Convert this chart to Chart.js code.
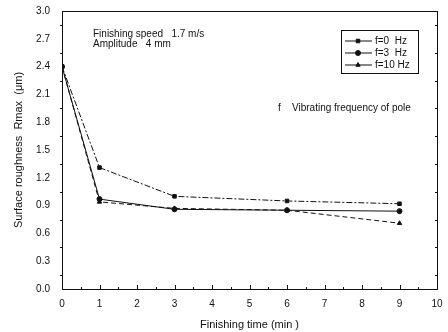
<!DOCTYPE html>
<html>
<head>
<meta charset="utf-8">
<script src="https://cdn.jsdelivr.net/npm/chart.js@4.4.1/dist/chart.umd.min.js"></script>
<style>
	html, body { margin: 0; padding: 0; background: #fff; }
	#wrap { width: 448px; height: 332px; }
</style>
</head>
<body>
<div id="wrap"><canvas id="myChart" width="448" height="332"></canvas></div>
<script>
/* Data. */
const times = [0, 1, 3, 6, 9];
const seriesLabels = ['f=0  Hz', 'f=3  Hz', 'f=10 Hz'];
const f0Values = [2.4, 1.31, 1.0, 0.95, 0.92];
const f3Values = [2.4, 0.97, 0.86, 0.85, 0.84];
const f10Values = [2.4, 0.94, 0.87, 0.85, 0.71];
const xTicks = [0, 1, 2, 3, 4, 5, 6, 7, 8, 9, 10];
const yTicks = [0, 0.3, 0.6, 0.9, 1.2, 1.5, 1.8, 2.1, 2.4, 2.7, 3.0];

function toPoints(values) {
	return times.map((t, i) => ({ x: t, y: values[i] }));
}

const fontFamily = "'Liberation Sans', Arial, sans-serif";
Chart.defaults.font.family = fontFamily;
Chart.defaults.color = '#111';

// Frame, minor ticks, legend box and notes
const extras = {
	id: 'extras',
	afterDraw(chart) {
		const ctx = chart.ctx;
		const a = chart.chartArea;
		const xs = chart.scales.x;
		const ys = chart.scales.y;
		ctx.save();
		ctx.strokeStyle = '#111';
		ctx.lineWidth = 1;
		ctx.strokeRect(a.left + 0.5, a.top + 0.5, a.right - a.left, a.bottom - a.top);

		// minor ticks
		ctx.beginPath();
		for (let v = 0.15; v < 3; v += 0.3) {
			const y = Math.round(ys.getPixelForValue(v)) + 0.5;
			ctx.moveTo(a.left, y); ctx.lineTo(a.left - 2, y);
			ctx.moveTo(a.right, y); ctx.lineTo(a.right - 2, y);
		}
		for (let v = 0.5; v < 10; v += 1) {
			const x = Math.round(xs.getPixelForValue(v)) + 0.5;
			ctx.moveTo(x, a.bottom); ctx.lineTo(x, a.bottom - 2);
		}
		for (const v of xTicks) {
			const x = Math.round(xs.getPixelForValue(v)) + 0.5;
			ctx.moveTo(x, a.bottom + 1); ctx.lineTo(x, a.bottom - 4);
		}
		ctx.stroke();

		// notes
		ctx.fillStyle = '#111';
		ctx.font = '10px ' + fontFamily;
		ctx.textBaseline = 'middle';
		ctx.fillText('Finishing speed   1.7 m/s', 93, 34);
		ctx.fillText('Amplitude   4 mm', 93, 44);
		ctx.fillText('f', 278, 108);
		ctx.fillText('Vibrating frequency of pole', 292, 108);

		// legend box
		const lx = 341, ly = 30, lw = 77, lh = 43;
		ctx.strokeRect(lx + 0.5, ly + 0.5, lw, lh);
		chart.data.datasets.forEach((ds, i) => {
			const y = ly + 11 + i * 12;
			ctx.save();
			ctx.strokeStyle = ds.borderColor;
			ctx.lineWidth = 1;
			ctx.beginPath();
			ctx.moveTo(lx + 4, y); ctx.lineTo(lx + 31, y);
			ctx.stroke();
			ctx.restore();
			Chart.helpers.drawPoint(ctx, {
				pointStyle: ds.pointStyle,
				radius: 2.5,
				rotation: 0,
				borderWidth: 1
			}, lx + 17, y);
			ctx.fillText(ds.label, lx + 34, y);
		});
		ctx.restore();
	}
};

const common = {
	borderColor: '#111',
	backgroundColor: '#111',
	pointBackgroundColor: '#111',
	pointBorderColor: '#111',
	borderWidth: 1,
	pointRadius: 2.5,
	showLine: true,
	tension: 0
};

const chartConfig = {
	type: 'scatter',
	data: {
		datasets: [
			Object.assign({}, common, {
				label: seriesLabels[0],
				data: toPoints(f0Values),
				pointStyle: 'rect',
				borderDash: [6, 2, 2, 2]
			}),
			Object.assign({}, common, {
				label: seriesLabels[1],
				data: toPoints(f3Values),
				pointStyle: 'circle',
				borderDash: []
			}),
			Object.assign({}, common, {
				label: seriesLabels[2],
				data: toPoints(f10Values),
				pointStyle: 'triangle',
				borderDash: [5, 3]
			})
		]
	},
	options: {
		responsive: false,
		animation: false,
		layout: { padding: { top: 11, right: 11, left: 0, bottom: 0 } },
		plugins: {
			legend: { display: false },
			tooltip: { enabled: false }
		},
		scales: {
			x: {
				type: 'linear',
				min: 0,
				max: 10,
				afterBuildTicks: (scale) => { scale.ticks = xTicks.map((v) => ({ value: v })); },
				afterFit: (scale) => {
					scale.height = 43;
					scale.paddingLeft = 0;
					scale.paddingRight = 0;
				},
				grid: { display: false, drawTicks: false },
				border: { display: true, color: '#111' },
				ticks: { font: { size: 10 }, padding: 9, maxRotation: 0 },
				title: {
					display: true,
					text: 'Finishing time (min )',
					font: { size: 11 },
					padding: { top: 3, bottom: 0 }
				}
			},
			y: {
				type: 'linear',
				min: 0,
				max: 3,
				afterBuildTicks: (scale) => { scale.ticks = yTicks.map((v) => ({ value: v })); },
				afterFit: (scale) => {
					scale.width = 62;
					scale.paddingTop = 0;
					scale.paddingBottom = 0;
				},
				grid: { display: false, drawTicks: true, tickLength: 4, color: '#111' },
				border: { display: true, color: '#111' },
				ticks: {
					font: { size: 10 },
					padding: 8,
					callback: (v) => v.toFixed(1)
				},
				title: {
					display: true,
					text: 'Surface roughness  Rmax  (\u03bcm)',
					font: { size: 11 },
					padding: { top: 12, bottom: 0 }
				}
			}
		}
	},
	plugins: [extras]
};

const myChart = new Chart(document.getElementById('myChart').getContext('2d'), chartConfig);
</script>
</body>
</html>
